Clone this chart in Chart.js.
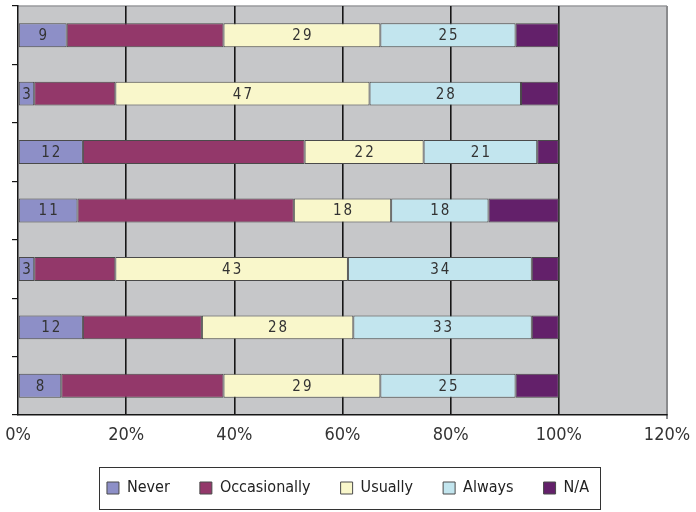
<!DOCTYPE html>
<html>
<head>
<meta charset="utf-8">
<script src="https://cdn.jsdelivr.net/npm/chart.js@4/dist/chart.umd.min.js"></script>
<style>
  html, body { margin: 0; padding: 0; background: #fff; }
  #wrap { width: 696px; height: 512px; }
</style>
</head>
<body>
<div id="wrap"><canvas id="chart" width="696" height="512"></canvas></div>
<script>
// Survey answers per row, in percent of respondents
const categories = ['1', '2', '3', '4', '5', '6', '7'];
const seriesNames = ['Never', 'Occasionally', 'Usually', 'Always', 'N/A'];
const never = [9, 3, 12, 11, 3, 12, 8];
const occasionally = [29, 15, 41, 40, 15, 22, 30];
const usually = [29, 47, 22, 18, 43, 28, 29];
const always = [25, 28, 21, 18, 34, 33, 25];
const notApplicable = [8, 7, 4, 13, 5, 5, 8];
const xTickValues = [0, 20, 40, 60, 80, 100, 120];
const labelledSeries = ['Never', 'Usually', 'Always'];

const FONT = "'DejaVu Sans Condensed', 'Liberation Sans Narrow', 'Arial Narrow', sans-serif";
const colors = ['#8D8FC7', '#93386A', '#F9F7CB', '#C2E5EE', '#63206A'];
const seriesData = [never, occasionally, usually, always, notApplicable];

Chart.defaults.font.family = FONT;
Chart.defaults.color = '#333';

// Gray plot panel with its thin frame on top and right
const plotPanel = {
  id: 'plotPanel',
  beforeDraw(chart) {
    const { ctx, chartArea: a } = chart;
    ctx.save();
    ctx.fillStyle = '#C6C7C9';
    ctx.fillRect(a.left, a.top, a.right - a.left, a.bottom - a.top);
    ctx.strokeStyle = '#999a9c';
    ctx.lineWidth = 1.5;
    ctx.beginPath();
    ctx.moveTo(a.left, a.top);
    ctx.lineTo(a.right, a.top);
    ctx.stroke();
    ctx.strokeStyle = '#8a8b8d';
    ctx.lineWidth = 2;
    ctx.beginPath();
    ctx.moveTo(a.right, a.top);
    ctx.lineTo(a.right, a.bottom + 4);
    ctx.stroke();
    ctx.restore();
  }
};

// Value numbers printed in the middle of selected segments
const valueLabels = {
  id: 'valueLabels',
  afterDatasetsDraw(chart) {
    const ctx = chart.ctx;
    const sp = 2;
    ctx.save();
    ctx.font = '15px ' + FONT;
    ctx.fillStyle = '#333';
    ctx.textAlign = 'center';
    ctx.textBaseline = 'middle';
    ctx.letterSpacing = sp + 'px';
    chart.data.datasets.forEach((ds, i) => {
      if (!labelledSeries.includes(ds.label)) return;
      chart.getDatasetMeta(i).data.forEach((bar, j) => {
        const x = (bar.x + bar.base) / 2 + sp / 2;
        ctx.fillText(String(ds.data[j]), x, bar.y + 1);
      });
    });
    ctx.restore();
  }
};

// Center the legend on the whole canvas and frame it
const legendFrame = {
  id: 'legendFrame',
  afterLayout(chart) {
    const lg = chart.legend;
    lg.left = 0;
    lg.right = chart.width;
    lg.width = chart.width;
  },
  afterDraw(chart) {
    const lg = chart.legend;
    const hb = lg.legendHitBoxes;
    if (!hb || !hb.length) return;
    const first = hb[0], last = hb[hb.length - 1];
    const cy = first.top + first.height / 2;
    const ctx = chart.ctx;
    ctx.save();
    ctx.strokeStyle = '#333';
    ctx.lineWidth = 1;
    const l = Math.round(first.left - 8) + 0.5;
    const r = Math.round(last.left + last.width + 11) + 0.5;
    const t = Math.round(cy - 21) + 0.5;
    const b = Math.round(cy + 21) + 0.5;
    ctx.strokeRect(l, t, r - l, b - t);
    ctx.restore();
  }
};

new Chart(document.getElementById('chart'), {
  type: 'bar',
  data: {
    labels: categories,
    datasets: seriesNames.map((name, i) => ({
      label: name,
      data: seriesData[i],
      backgroundColor: colors[i],
      borderColor: '#4a4a4a',
      borderWidth: 1,
      borderSkipped: false,
      categoryPercentage: 1,
      barPercentage: 0.41
    }))
  },
  options: {
    indexAxis: 'y',
    responsive: false,
    animation: false,
    devicePixelRatio: 1,
    layout: { padding: { left: 0, top: 6, right: 29, bottom: 6 } },
    plugins: {
      tooltip: { enabled: false },
      legend: {
        position: 'bottom',
        labels: {
          font: { size: 16 },
          color: '#222',
          boxWidth: 12,
          boxHeight: 12,
          padding: 30
        }
      }
    },
    scales: {
      x: {
        stacked: true,
        min: 0,
        max: 120,
        afterBuildTicks: s => { s.ticks = xTickValues.map(v => ({ value: v })); },
        ticks: {
          callback: v => v + '%',
          font: { size: 18 },
          color: '#333',
          padding: 10,
          maxRotation: 0
        },
        grid: {
          drawTicks: false,
          color: c => (c.tick && c.tick.value > 0 && c.tick.value < 120) ? '#161616' : 'rgba(0,0,0,0)',
          lineWidth: 1.6
        },
        border: { color: '#161616', width: 1.5 },
        afterFit: s => {
          s.height = 35;
          s.paddingLeft = 0;
          s.paddingRight = 0;
        }
      },
      y: {
        stacked: true,
        ticks: { display: false },
        grid: {
          drawOnChartArea: false,
          offset: true,
          tickLength: 6,
          color: '#161616',
          lineWidth: 1.2
        },
        border: { color: '#161616', width: 1.5 },
        afterFit: s => {
          s.width = 18;
          s.paddingTop = 0;
          s.paddingBottom = 0;
        }
      }
    }
  },
  plugins: [plotPanel, valueLabels, legendFrame]
});
</script>
</body>
</html>
